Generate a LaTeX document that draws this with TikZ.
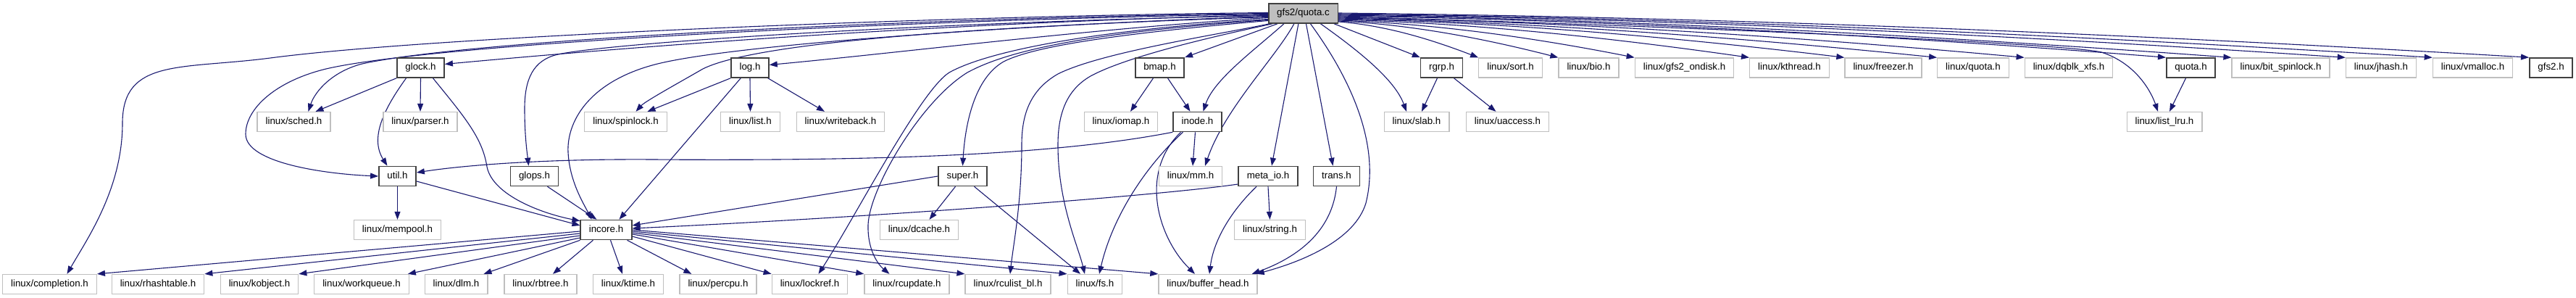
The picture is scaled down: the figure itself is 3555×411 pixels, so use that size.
\documentclass[tikz,border=0pt]{standalone}
\usepackage{fontspec}
\setmainfont{Liberation Sans}
\usetikzlibrary{calc,arrows.meta}
\definecolor{edgeblue}{HTML}{191970}
\definecolor{sysgray}{HTML}{BFBFBF}
\definecolor{prjgray}{HTML}{404040}
\definecolor{curfill}{HTML}{BFBFBF}
\pgfdeclarelayer{bg}
\pgfsetlayers{bg,main}
\tikzset{
  basebox/.style={rectangle, fill=white, font=\fontsize{13.33pt}{16pt}\selectfont,
    inner xsep=11.5pt, inner ysep=0pt, minimum height=27pt, text height=10pt, text depth=3pt},
  sys/.style={basebox, draw=sysgray, line width=1.3pt},
  prj/.style={basebox, draw=prjgray, line width=1.6pt},
  cur/.style={prj, fill=curfill},
  e/.style={draw=edgeblue, line width=1.1pt, -{Triangle[length=11pt,width=8pt]}}
}
\begin{document}
\begin{tikzpicture}[x=1pt,y=-1pt]
\useasboundingbox (0,0) rectangle (3555,411);
% row 0
\node[cur] (Q) at (1798.5,18.5) {gfs2/quota.c};
% row 1
\node[prj] (glock) at (580.5,93.5) {glock.h};
\node[prj] (log) at (1035,93.5) {log.h};
\node[prj] (bmap) at (1600.5,93.5) {bmap.h};
\node[prj] (rgrp) at (1989.5,93.5) {rgrp.h};
\node[sys] (sort) at (2084.5,93.5) {linux/sort.h};
\node[sys] (bio) at (2192.5,93.5) {linux/bio.h};
\node[sys] (gondisk) at (2324.5,93.5) {linux/gfs2\_ondisk.h};
\node[sys] (kthread) at (2469.5,93.5) {linux/kthread.h};
\node[sys] (freezer) at (2599,93.5) {linux/freezer.h};
\node[sys] (lquota) at (2723,93.5) {linux/quota.h};
\node[sys] (dqblk) at (2855,93.5) {linux/dqblk\_xfs.h};
\node[prj] (quotah) at (3023.5,93.5) {quota.h};
\node[sys] (bitspin) at (3147.5,93.5) {linux/bit\_spinlock.h};
\node[sys] (jhash) at (3286,93.5) {linux/jhash.h};
\node[sys] (vmalloc) at (3412.5,93.5) {linux/vmalloc.h};
\node[prj] (gfstwo) at (3520.5,93.5) {gfs2.h};
% row 2
\node[sys] (sched) at (405.5,168) {linux/sched.h};
\node[sys] (parser) at (580,168) {linux/parser.h};
\node[sys] (spinlock) at (863.5,168) {linux/spinlock.h};
\node[sys] (list) at (1035.5,168) {linux/list.h};
\node[sys] (writeback) at (1160,168) {linux/writeback.h};
\node[sys] (iomap) at (1547,168) {linux/iomap.h};
\node[prj] (inode) at (1652.5,168) {inode.h};
\node[sys] (slab) at (1955,168) {linux/slab.h};
\node[sys] (uaccess) at (2080.5,168) {linux/uaccess.h};
\node[sys] (listlru) at (2987,168) {linux/list\_lru.h};
% row 3
\node[prj] (util) at (548.5,243) {util.h};
\node[prj] (glops) at (737.5,243) {glops.h};
\node[prj] (super) at (1328.5,243) {super.h};
\node[sys] (mm) at (1643,243) {linux/mm.h};
\node[prj] (meta) at (1750,243) {meta\_io.h};
\node[prj] (trans) at (1844.5,243) {trans.h};
% row 4
\node[sys] (mempool) at (548.5,317) {linux/mempool.h};
\node[prj] (incore) at (836.5,317) {incore.h};
\node[sys] (dcache) at (1268.5,317) {linux/dcache.h};
\node[sys] (string) at (1752.5,317) {linux/string.h};
% row 5
\node[sys] (completion) at (68.5,392) {linux/completion.h};
\node[sys] (rhash) at (218,392) {linux/rhashtable.h};
\node[sys] (kobject) at (358,392) {linux/kobject.h};
\node[sys] (workqueue) at (499,392) {linux/workqueue.h};
\node[sys] (dlm) at (629.5,392) {linux/dlm.h};
\node[sys] (rbtree) at (746,392) {linux/rbtree.h};
\node[sys] (ktime) at (867,392) {linux/ktime.h};
\node[sys] (percpu) at (991,392) {linux/percpu.h};
\node[sys] (lockref) at (1117.5,392) {linux/lockref.h};
\node[sys] (rcupdate) at (1251.5,392) {linux/rcupdate.h};
\node[sys] (rculist) at (1391,392) {linux/rculist\_bl.h};
\node[sys] (fs) at (1511,392) {linux/fs.h};
\node[sys] (bufhead) at (1667,392) {linux/buffer\_head.h};

\begin{pgfonlayer}{bg}
% ---- from gfs2/quota.c, leftwards
\draw[e] ($(Q.west)+(0,-1)$) .. controls (1300,22) and (600,50) .. (373,80) .. controls (250,96) and (169,80) .. (169,170) .. controls (169,260) and (120,330) .. ($(completion.north)+(24,0)$);
\draw[e] (Q.west) .. controls (1250,25) and (650,55) .. (500,88) .. controls (460,98) and (435,125) .. ($(sched.north)+(20,0)$);
\draw[e] ($(Q.west)+(0,1)$) .. controls (1250,27) and (600,60) .. (450,95) .. controls (380,112) and (339,150) .. (339,185) .. controls (339,225) and (450,240) .. (util.west);
\draw[e] ($(Q.west)+(0,2)$) .. controls (1300,32) and (900,62) .. ($(glock.east)+(0,-5)$);
\draw[e] ($(Q.west)+(0,3)$) .. controls (1300,30) and (850,58) .. (770,75) .. controls (735,83) and (724,110) .. (724,150) .. controls (724,190) and (728,215) .. ($(glops.north)+(-8,0)$);
\draw[e] ($(Q.west)+(0,4)$) .. controls (1400,35) and (1000,62) .. (900,90) .. controls (810,115) and (782,170) .. (784,210) .. controls (786,250) and (805,280) .. ($(incore.north)+(-20,0)$);
\draw[e] ($(Q.west)+(0,5)$) .. controls (1400,35) and (1050,55) .. (970,95) .. controls (930,118) and (890,140) .. ($(spinlock.north)+(14,0)$);
\draw[e] ($(Q.west)+(0,6)$) .. controls (1500,40) and (1250,72) .. ($(log.east)+(0,-4)$);
\draw[e] ($(Q.west)+(0,8)$) .. controls (1500,42) and (1360,72) .. (1310,100) .. controls (1270,125) and (1180,300) .. ($(lockref.north)+(12,0)$);
\draw[e] ($(Q.west)+(0,9)$) .. controls (1500,45) and (1390,70) .. (1335,100) .. controls (1270,140) and (1200,260) .. (1198,310) .. controls (1197,345) and (1212,365) .. ($(rcupdate.north)+(-24,0)$);
\draw[e] ($(Q.west)+(0,10)$) .. controls (1560,45) and (1430,62) .. (1385,85) .. controls (1345,108) and (1332,170) .. (super.north);
\draw[e] ($(Q.south west)+(2,0)$) .. controls (1680,48) and (1520,72) .. (1460,102) .. controls (1420,125) and (1410,160) .. (1410,200) .. controls (1410,280) and (1398,340) .. ($(rculist.north)+(3,0)$);
\draw[e] ($(Q.south west)+(6,0)$) .. controls (1700,45) and (1560,75) .. (1505,105) .. controls (1470,125) and (1460,160) .. (1460,200) .. controls (1460,280) and (1488,340) .. ($(fs.north)+(-14,0)$);
% ---- from gfs2/quota.c, downwards
\draw[e] ($(Q.south west)+(13,0)$) -- (bmap.north east);
\draw[e] ($(Q.south west)+(22,0)$) .. controls (1730,70) and (1675,110) .. ($(inode.north)+(8,0)$);
\draw[e] ($(Q.south west)+(36,0)$) .. controls (1760,80) and (1690,150) .. ($(mm.north)+(20,0)$);
\draw[e] ($(Q.south west)+(42,0)$) -- ($(meta.north)+(5,0)$);
\draw[e] ($(Q.south)+(4,0)$) -- ($(trans.north)+(-5,0)$);
\draw[e] ($(Q.south)+(10,0)$) .. controls (1865,110) and (1905,200) .. (1885,280) .. controls (1870,330) and (1800,360) .. ($(bufhead.north east)+(-2,0)$);
\draw[e] ($(Q.south)+(24,0)$) .. controls (1875,70) and (1925,110) .. ($(slab.north)+(-14,0)$);
\draw[e] ($(Q.south east)+(-6,0)$) -- (rgrp.north west);
% ---- from gfs2/quota.c, rightwards
\draw[e] ($(Q.east)+(0,11.5)$) .. controls +(65,5) and +(-65,-25) .. (sort.north west);
\draw[e] ($(Q.east)+(0,10.5)$) .. controls +(102,5) and +(-102,-26) .. (bio.north west);
\draw[e] ($(Q.east)+(0,9.5)$) .. controls +(137,5) and +(-137,-27) .. (gondisk.north west);
\draw[e] ($(Q.east)+(0,8.5)$) .. controls +(190,5) and +(-190,-27) .. (kthread.north west);
\draw[e] ($(Q.east)+(0,7.5)$) .. controls +(234,5) and +(-234,-28) .. (freezer.north west);
\draw[e] ($(Q.east)+(0,6.5)$) .. controls +(276,6) and +(-276,-28) .. (lquota.north west);
\draw[e] ($(Q.east)+(0,5.5)$) .. controls +(316,6) and +(-316,-29) .. (dqblk.north west);
\draw[e] ($(Q.east)+(0,4.5)$) .. controls (2300,35) and (2850,60) .. (2900,72) .. controls (2950,88) and (2970,130) .. ($(listlru.north)+(-9,0)$);
\draw[e] ($(Q.east)+(0,3.5)$) .. controls +(382,6) and +(-382,-30) .. (quotah.north west);
\draw[e] ($(Q.east)+(0,2.5)$) .. controls +(412,6) and +(-412,-30) .. (bitspin.north west);
\draw[e] ($(Q.east)+(0,1.5)$) .. controls +(464,6) and +(-464,-31) .. (jhash.north west);
\draw[e] ($(Q.east)+(0,0.5)$) .. controls +(504,6) and +(-504,-31) .. (vmalloc.north west);
\draw[e] ($(Q.east)+(0,-0.5)$) .. controls +(548,6) and +(-548,-32) .. (gfstwo.north west);
% ---- other headers
\draw[e] (glock.south west) -- ($(sched.north)+(30,0)$);
\draw[e] (glock.south) -- (parser.north);
\draw[e] ($(glock.south)+(-20,0)$) .. controls (530,150) and (510,190) .. ($(util.north)+(-14,0)$);
\draw[e] ($(glock.south)+(17,0)$) .. controls (640,160) and (666,190) .. (672,230) .. controls (680,270) and (750,295) .. ($(incore.north west)+(0,2)$);
\draw[e] (util.south) -- (mempool.north);
\draw[e] ($(util.east)+(0,7)$) -- ($(incore.west)+(0,-6)$);
\draw[e] ($(glops.south)+(18,0)$) -- ($(incore.north)+(-13,0)$);
\draw[e] ($(log.south west)+(14,0)$) -- ($(incore.north)+(18,0)$);
\draw[e] (log.south west) -- ($(spinlock.north)+(30,0)$);
\draw[e] (log.south) -- (list.north);
\draw[e] ($(log.south east)+(-2,0)$) -- ($(writeback.north)+(-22,0)$);
\draw[e] ($(bmap.south)+(-9,0)$) -- ($(iomap.north)+(13,0)$);
\draw[e] ($(bmap.south)+(11,0)$) -- ($(inode.north)+(-10,0)$);
\draw[e] ($(inode.south west)+(0,0)$) .. controls (1450,215) and (1200,222) .. (900,220) .. controls (750,219) and (640,228) .. ($(util.east)+(0,-5)$);
\draw[e] ($(inode.south)+(-3,0)$) -- ($(mm.north)+(3,0)$);
\draw[e] ($(inode.south)+(-20,0)$) .. controls (1580,230) and (1535,300) .. ($(fs.north)+(6,0)$);
\draw[e] ($(inode.south)+(-23,0)$) .. controls (1570,240) and (1600,330) .. ($(bufhead.north)+(-18,0)$);
\draw[e] (super.west) -- ($(incore.east)+(0,-6)$);
\draw[e] ($(super.south)+(-10,0)$) -- ($(dcache.north)+(14,0)$);
\draw[e] ($(super.south)+(16,0)$) -- ($(fs.north)+(-20,0)$);
\draw[e] ($(meta.west)+(0,11)$) .. controls (1600,270) and (1200,300) .. ($(incore.east)+(0,-2)$);
\draw[e] (meta.south) -- (string.north);
\draw[e] ($(meta.south)+(-16,0)$) .. controls (1700,290) and (1675,330) .. ($(bufhead.north)+(2,0)$);
\draw[e] (trans.south) .. controls (1838,320) and (1790,355) .. ($(bufhead.north east)+(-8,0)$);
\draw[e] ($(rgrp.south)+(-6,0)$) -- ($(slab.north)+(7,0)$);
\draw[e] ($(rgrp.south)+(17,0)$) -- ($(uaccess.north)+(-16,0)$);
\draw[e] ($(quotah.south)+(-7,0)$) -- ($(listlru.north)+(7,0)$);
% ---- from incore.h
\draw[e] ($(incore.west)+(0,2)$) -- (completion.north east);
\draw[e] ($(incore.west)+(0,5)$) -- (rhash.north east);
\draw[e] ($(incore.west)+(0,8)$) -- (kobject.north east);
\draw[e] ($(incore.west)+(0,11)$) -- ($(workqueue.north east)+(-2,0)$);
\draw[e] (incore.south west) -- ($(dlm.north east)+(-6,0)$);
\draw[e] ($(incore.south west)+(18,0)$) -- ($(rbtree.north)+(17,0)$);
\draw[e] ($(incore.south)+(6,0)$) -- ($(ktime.north)+(-8,0)$);
\draw[e] ($(incore.south east)+(-7,0)$) -- ($(percpu.north west)+(17,0)$);
\draw[e] ($(incore.east)+(0,9)$) -- (lockref.north west);
\draw[e] ($(incore.east)+(0,6)$) -- (rcupdate.north west);
\draw[e] ($(incore.east)+(0,4)$) -- (rculist.north west);
\draw[e] ($(incore.east)+(0,2)$) -- (fs.north west);
\draw[e] ($(incore.east)+(0,0)$) -- (bufhead.north west);
\end{pgfonlayer}
\end{tikzpicture}
\end{document}
